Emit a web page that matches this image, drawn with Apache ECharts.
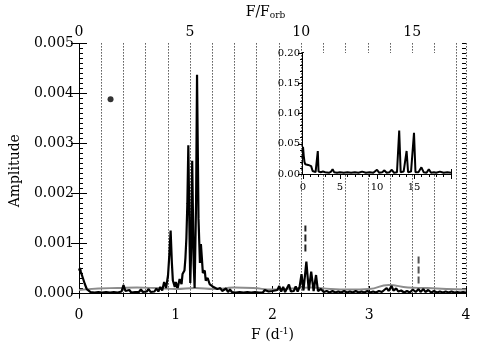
<!DOCTYPE html>
<html>
<head>
<meta charset="utf-8">
<script src="https://cdn.jsdelivr.net/npm/echarts@6/dist/echarts.min.js"></script>
<style>
  html, body { margin: 0; padding: 0; background: #fff; }
  #chart { width: 491px; height: 351px; }
</style>
</head>
<body>
<div id="chart"></div>
<script>
// amplitude spectrum, F in d^-1
const specF = [
  0.00, 0.01, 0.02, 0.03, 0.04, 0.05, 0.06, 0.07, 0.08, 0.10, 0.12, 0.14, 0.16, 0.18, 0.20,
  0.22, 0.24, 0.26, 0.28, 0.30, 0.32, 0.34, 0.36, 0.38, 0.40, 0.42, 0.44, 0.46, 0.48, 0.50,
  0.52, 0.54, 0.56, 0.58, 0.60, 0.62, 0.64, 0.66, 0.68, 0.70, 0.72, 0.74, 0.76, 0.78, 0.80,
  0.82, 0.84, 0.86, 0.88, 0.90, 0.92, 0.935, 0.947, 0.96, 0.97, 0.99, 1.00, 1.02, 1.04, 1.06,
  1.07, 1.09, 1.10, 1.11, 1.12, 1.13, 1.145, 1.15, 1.16, 1.17, 1.185, 1.195, 1.21, 1.22, 1.235,
  1.25, 1.26, 1.27, 1.28, 1.30, 1.31, 1.33, 1.35, 1.37, 1.39, 1.41, 1.43, 1.46, 1.48,
  1.50, 1.52, 1.54, 1.56, 1.58, 1.60, 1.62, 1.64, 1.66, 1.68, 1.70, 1.72, 1.74, 1.76, 1.78,
  1.80, 1.82, 1.84, 1.86, 1.88, 1.90, 1.92, 1.94, 1.96, 1.98, 2.00, 2.02, 2.05, 2.07, 2.09,
  2.11, 2.13, 2.15, 2.17, 2.19, 2.22, 2.24, 2.26, 2.28, 2.30, 2.32, 2.35, 2.375, 2.40, 2.425,
  2.45, 2.47, 2.50, 2.53, 2.56, 2.59, 2.62, 2.65, 2.68, 2.71, 2.74, 2.77, 2.80, 2.83, 2.86,
  2.89, 2.92, 2.95, 2.98, 3.01, 3.04, 3.07, 3.10, 3.13, 3.15, 3.18, 3.20, 3.23, 3.25, 3.28,
  3.30, 3.33, 3.36, 3.39, 3.42, 3.45, 3.48, 3.51, 3.53, 3.56, 3.58, 3.61, 3.64, 3.67, 3.70,
  3.73, 3.76, 3.79, 3.82, 3.85, 3.88, 3.91, 3.94, 3.97, 4.00
];
const specAmp = [
  0.00045, 0.00050, 0.00042, 0.00046, 0.00030, 0.00034, 0.00018, 0.00022, 0.00008, 0.00012, 0.00002, 0.00006, 0.00001, 0.00005, 0.00002,
  0.00006, 0.00001, 0.00005, 0.00002, 0.00006, 0.00001, 0.00004, 0.00002, 0.00006, 0.00001, 0.00004, 0.00003, 0.00016, 0.00004, 0.00002,
  0.00006, 0.00001, 0.00005, 0.00002, 0.00006, 0.00002, 0.00007, 0.00002, 0.00005, 0.00003, 0.00008, 0.00002, 0.00006, 0.00003, 0.00009,
  0.00003, 0.00012, 0.00005, 0.00022, 0.00010, 0.00035, 0.00080, 0.00125, 0.00060, 0.00025, 0.00012, 0.00022, 0.00010, 0.00028, 0.00018,
  0.00038, 0.00045, 0.00070, 0.00110, 0.00180, 0.00296, 0.00080, 0.00020, 0.00090, 0.00265, 0.00060, 0.00010, 0.00180, 0.00437, 0.00150,
  0.00060, 0.00098, 0.00070, 0.00040, 0.00045, 0.00025, 0.00030, 0.00018, 0.00020, 0.00012, 0.00015, 0.00008, 0.00010, 0.00004,
  0.00004, 0.00009, 0.00002, 0.00007, 0.00002, 0.00006, 0.00001, 0.00005, 0.00002, 0.00006, 0.00001, 0.00005, 0.00002, 0.00004, 0.00001,
  0.00004, 0.00002, 0.00003, 0.00001, 0.00004, 0.00001, 0.00006, 0.00002, 0.00003, 0.00001, 0.00004, 0.00004, 0.00006, 0.00014, 0.00003,
  0.00012, 0.00002, 0.00006, 0.00017, 0.00003, 0.00004, 0.00013, 0.00003, 0.00012, 0.00038, 0.00005, 0.00063, 0.00005, 0.00043, 0.00004,
  0.00036, 0.00004, 0.00008, 0.00002, 0.00004, 0.00001, 0.00004, 0.00001, 0.00003, 0.00001, 0.00004, 0.00001, 0.00003, 0.00001, 0.00004,
  0.00001, 0.00003, 0.00001, 0.00004, 0.00001, 0.00003, 0.00001, 0.00004, 0.00002, 0.00005, 0.00010, 0.00004, 0.00014, 0.00005, 0.00009,
  0.00003, 0.00005, 0.00001, 0.00004, 0.00001, 0.00007, 0.00002, 0.00008, 0.00002, 0.00008, 0.00002, 0.00006, 0.00001, 0.00004, 0.00001,
  0.00003, 0.00001, 0.00003, 0.00001, 0.00003, 0.00001, 0.00002, 0.00001, 0.00002, 0.00001
];

// noise level (grey curve)
const noiseF = [0, 0.2, 0.4, 0.6, 0.8, 1.0, 1.2, 1.4, 1.6, 1.8, 2.0, 2.2, 2.4, 2.6, 2.8, 3.0, 3.2, 3.4, 3.6, 3.8, 4.0];
const noiseAmp = [0.00006, 0.00009, 0.00010, 0.00011, 0.00010, 0.00008, 0.00010, 0.00008, 0.00011, 0.00010, 0.00007,
  0.00009, 0.00011, 0.00008, 0.00007, 0.00008, 0.00016, 0.00011, 0.00010, 0.00008, 0.00007];

// dashed markers and the dot
const markF = [2.34, 3.51];
const markLow = [0.00083, 0.00019];
const markHigh = [0.00135, 0.00073];
const dotF = [0.326];
const dotAmp = [0.00388];

// orbital frequency (d^-1)
const fOrb = 0.2296;

// inset: full spectrum 0-20 d^-1
const insetF = [
  0, 0.1, 0.2, 0.3, 0.5, 0.7, 0.9, 1.1, 1.3, 1.5, 1.7, 1.9, 2.0, 2.1, 2.4, 2.7, 3.0, 3.2, 3.5, 3.8,
  4.0, 4.2, 4.6, 5.0, 5.5, 6.0, 6.5, 7.0, 7.5, 8.0, 8.5, 9.0, 9.5, 10.0, 10.3, 10.7, 11.0, 11.3, 11.7,
  12.0, 12.3, 12.7, 13.0, 13.2, 13.6, 14.0, 14.2, 14.6, 15.0, 15.2, 15.6, 16.0, 16.3, 16.7, 17.0, 17.3,
  17.7, 18.0, 18.5, 19.0, 19.5, 20.0
];
const insetAmp = [
  0.045, 0.030, 0.020, 0.016, 0.013, 0.015, 0.012, 0.013, 0.005, 0.006, 0.003, 0.005, 0.038, 0.004, 0.003, 0.004, 0.003, 0.005, 0.002, 0.004,
  0.008, 0.003, 0.002, 0.003, 0.002, 0.003, 0.002, 0.003, 0.002, 0.004, 0.002, 0.003, 0.002, 0.007, 0.002, 0.003, 0.006, 0.002, 0.003,
  0.007, 0.002, 0.003, 0.072, 0.003, 0.004, 0.038, 0.003, 0.004, 0.068, 0.003, 0.003, 0.011, 0.003, 0.002, 0.008, 0.002,
  0.003, 0.002, 0.004, 0.002, 0.003, 0.002
];

const yLabels = [0, 0.001, 0.002, 0.003, 0.004, 0.005];
const yMinor = [];
for (let i = 0; i <= 50; i++) yMinor.push(+(i * 0.0001).toFixed(4));

const font = 'DejaVu Serif';
const ink = '#000';

const chart = echarts.init(document.getElementById('chart'), null, { renderer: 'canvas' });

const pairs = (xs, ys) => xs.map((x, i) => [x, ys[i]]);

const markerSeries = markF.map((f, i) => ({
  type: 'line',
  xAxisIndex: 0,
  yAxisIndex: 0,
  data: [[f, markLow[i]], [f, markHigh[i]]],
  symbol: 'none',
  lineStyle: { color: i === 0 ? '#222' : '#555', width: 2, type: [7, 3] },
  z: 4
}));

const option = {
  backgroundColor: '#fff',
  animation: false,
  grid: [
    { left: 73, top: 33, width: 393, height: 265 },
    { left: 303, top: 53, width: 148, height: 121, show: true, backgroundColor: '#fff', borderWidth: 0, z: 5 }
  ],
  xAxis: [
    {
      gridIndex: 0, type: 'value', position: 'bottom', min: 0, max: 4, interval: 1,
      name: 'F (d{s|-1})', nameLocation: 'middle', nameGap: 26,
      nameTextStyle: { fontFamily: font, fontSize: 14, color: ink, rich: { s: { fontFamily: font, fontSize: 9, color: ink, padding: [0, 0, 8, 0] } } },
      axisLine: { lineStyle: { color: ink, width: 1 } },
      axisTick: { inside: true, length: 7, lineStyle: { color: ink } },
      axisLabel: { fontFamily: font, fontSize: 14, color: ink, margin: 10 },
      splitLine: { show: false }
    },
    {
      gridIndex: 0, type: 'value', position: 'top', min: 0, max: 4 / fOrb, interval: 1,
      name: 'F/F{s|orb}', nameLocation: 'middle', nameGap: 20,
      nameTextStyle: { fontFamily: font, fontSize: 14, color: ink, padding: [0, 14, 0, 0], rich: { s: { fontFamily: font, fontSize: 9, color: ink, padding: [8, 0, 0, 0] } } },
      axisLine: { lineStyle: { color: ink, width: 1 } },
      axisTick: { inside: true, length: 4, lineStyle: { color: ink } },
      axisLabel: {
        fontFamily: font, fontSize: 14, color: ink, margin: 4,
        formatter: v => (Math.round(v) % 5 === 0 ? String(Math.round(v)) : '')
      },
      splitLine: { show: true, lineStyle: { color: ink, width: 1, type: [1, 2] } }
    },
    {
      gridIndex: 1, type: 'value', position: 'bottom', min: 0, max: 20, interval: 5,
      axisLine: { lineStyle: { color: ink, width: 2 } },
      axisTick: { inside: true, length: 5, lineStyle: { color: ink } },
      minorTick: { show: true, splitNumber: 5, length: 3, lineStyle: { color: ink } },
      axisLabel: {
        fontFamily: font, fontSize: 10, color: ink, margin: 8,
        customValues: [0, 5, 10, 15]
      },
      splitLine: { show: false }
    },
    {
      gridIndex: 1, type: 'value', position: 'top', min: 0, max: 20, interval: 5,
      axisLine: { lineStyle: { color: ink, width: 2 } },
      axisTick: { inside: true, length: 5, lineStyle: { color: ink } },
      minorTick: { show: true, splitNumber: 5, length: 3, lineStyle: { color: ink } },
      axisLabel: { show: false },
      splitLine: { show: false }
    }
  ],
  yAxis: [
    {
      gridIndex: 0, type: 'value', position: 'left', min: -0.0001, max: 0.005,
      name: 'Amplitude', nameLocation: 'middle', nameGap: 57,
      nameTextStyle: { fontFamily: font, fontSize: 14, color: ink },
      axisLine: { lineStyle: { color: ink, width: 1 } },
      axisTick: { inside: true, length: 8, customValues: yLabels, lineStyle: { color: ink } },
      axisLabel: { fontFamily: font, fontSize: 14, color: ink, margin: 5, customValues: yLabels, formatter: v => v.toFixed(3) },
      splitLine: { show: false }
    },
    {
      gridIndex: 0, type: 'value', position: 'right', min: -0.0001, max: 0.005,
      axisLine: { lineStyle: { color: ink, width: 1 } },
      axisTick: { inside: true, length: 8, customValues: yLabels, lineStyle: { color: ink } },
      axisLabel: { show: false },
      splitLine: { show: false }
    },
    {
      gridIndex: 0, type: 'value', position: 'left', min: -0.0001, max: 0.005,
      axisLine: { show: false },
      axisTick: { inside: true, length: 4, customValues: yMinor, lineStyle: { color: ink } },
      axisLabel: { show: false },
      splitLine: { show: false }
    },
    {
      gridIndex: 0, type: 'value', position: 'right', min: -0.0001, max: 0.005,
      axisLine: { show: false },
      axisTick: { inside: true, length: 4, customValues: yMinor, lineStyle: { color: ink } },
      axisLabel: { show: false },
      splitLine: { show: false }
    },
    {
      gridIndex: 1, type: 'value', position: 'left', min: 0, max: 0.2, interval: 0.05,
      axisLine: { lineStyle: { color: ink, width: 2 } },
      axisTick: { inside: true, length: 5, lineStyle: { color: ink } },
      minorTick: { show: true, splitNumber: 5, length: 3, lineStyle: { color: ink } },
      axisLabel: { fontFamily: font, fontSize: 10, color: ink, margin: 3, formatter: v => v.toFixed(2) },
      splitLine: { show: false }
    },
    {
      gridIndex: 1, type: 'value', position: 'right', min: 0, max: 0.2, interval: 0.05,
      axisLine: { lineStyle: { color: ink, width: 2 } },
      axisTick: { inside: true, length: 5, lineStyle: { color: ink } },
      minorTick: { show: true, splitNumber: 5, length: 3, lineStyle: { color: ink } },
      axisLabel: { show: false },
      splitLine: { show: false }
    }
  ],
  series: [
    {
      name: 'noise', type: 'line', xAxisIndex: 0, yAxisIndex: 0,
      data: pairs(noiseF, noiseAmp), smooth: true, symbol: 'none',
      lineStyle: { color: '#8c8c8c', width: 1.8 }, z: 2
    },
    {
      name: 'spectrum', type: 'line', xAxisIndex: 0, yAxisIndex: 0,
      data: pairs(specF, specAmp), symbol: 'none',
      lineStyle: { color: ink, width: 2.2 }, z: 3
    },
    ...markerSeries,
    {
      name: 'dot', type: 'scatter', xAxisIndex: 0, yAxisIndex: 0,
      data: pairs(dotF, dotAmp), symbol: 'circle', symbolSize: 6,
      itemStyle: { color: ink }, z: 4
    },
    {
      name: 'inset', type: 'line', xAxisIndex: 2, yAxisIndex: 4,
      data: pairs(insetF, insetAmp), symbol: 'none',
      lineStyle: { color: ink, width: 2 }, z: 8
    }
  ]
};

chart.setOption(option);
</script>
</body>
</html>
